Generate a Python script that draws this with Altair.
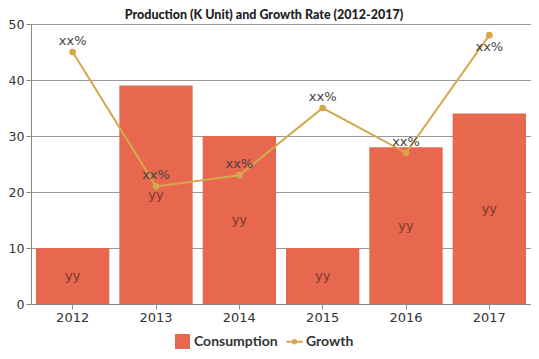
import altair as alt
import pandas as pd

years = ["2012", "2013", "2014", "2015", "2016", "2017"]
consumption = [10, 39, 30, 10, 28, 34]
growth = [45, 21, 23, 35, 27, 48]
bar_labels = ["yy"] * 6
growth_labels = ["xx%"] * 6
series_names = ["Consumption", "Growth"]

BAR = "#E8674F"
LINE = "#D4A84B"

rows = []
for i, y in enumerate(years):
    rows.append({"year": y, "series": "Consumption", "value": consumption[i], "label": bar_labels[i]})
    rows.append({"year": y, "series": "Growth", "value": growth[i], "label": growth_labels[i]})
df = pd.DataFrame(rows)

x = alt.X("year:N", title=None,
          scale=alt.Scale(paddingInner=0.12, paddingOuter=0.06),
          axis=alt.Axis(labelAngle=0, labelFontSize=13, labelColor="#333", labelFont="DejaVu Sans",
                        domainColor="#888", tickColor="#888", tickSize=5, labelPadding=2, grid=False))
y = alt.Y("value:Q", title=None,
          scale=alt.Scale(domain=[0, 50], nice=False),
          axis=alt.Axis(values=[0, 10, 20, 30, 40, 50], labelFontSize=12.5, labelColor="#333",
                        labelFont="DejaVu Sans", domainColor="#888", tickColor="#888", tickSize=5,
                        labelPadding=2, gridColor="#999", gridWidth=1))

leg = alt.Legend(title=None, orient="none", direction="horizontal", legendX=144, legendY=310,
                 labelFontSize=14, labelColor="#333", labelFont="Lato",
                 labelFontWeight="bold", symbolSize=225, symbolOpacity=1,
                 symbolStrokeWidth=0, columnPadding=8, labelOffset=4)
cscale = alt.Scale(domain=series_names, range=[BAR, LINE])
color = alt.Color("series:N", scale=cscale, legend=leg)

base = alt.Chart(df)

bars = base.transform_filter(alt.datum.series == "Consumption").mark_bar(color=BAR).encode(
    x=x, y=y, color=color)

bar_text = base.transform_filter(alt.datum.series == "Consumption").transform_calculate(
    half="datum.value / 2").mark_text(fontSize=13, color="#7a3a2c", font="DejaVu Sans",
                                       baseline="middle").encode(
    x=x, y=alt.Y("half:Q"), text="label:N")

line = base.transform_filter(alt.datum.series == "Growth").mark_line(
    color=LINE, strokeWidth=2).encode(x=x, y=y, color=color)

pts = base.transform_filter(alt.datum.series == "Growth").mark_circle(
    color=LINE, size=45, opacity=1).encode(x=x, y=y, color=color)

gtext_above = base.transform_filter(
    (alt.datum.series == "Growth") & (alt.datum.year != "2017")).mark_text(
    fontSize=13, color="#444", font="DejaVu Sans", dy=-11, baseline="middle").encode(
    x=x, y=y, text="label:N")

gtext_below = base.transform_filter(
    (alt.datum.series == "Growth") & (alt.datum.year == "2017")).mark_text(
    fontSize=13, color="#444", font="DejaVu Sans", dy=12, baseline="middle").encode(
    x=x, y=y, text="label:N")

growth_sym = ("M-1.1,-0.13L1.1,-0.13L1.1,0.13L-1.1,0.13Z"
              "M0.38,0A0.38,0.38 0 1,1 -0.38,0A0.38,0.38 0 1,1 0.38,0Z")

legend_layer = base.mark_point(filled=True, opacity=0).encode(
    x=x, y=y,
    color=color,
    shape=alt.Shape("series:N", scale=alt.Scale(domain=series_names,
                                                 range=["square", growth_sym]),
                    legend=leg),
)

chart = alt.layer(bars, bar_text, line, pts, gtext_above, gtext_below, legend_layer).properties(
    width=500, height=280,
    padding={"left": 0, "top": 0, "right": 0, "bottom": 0},
    title=alt.TitleParams("Production (K Unit) and Growth Rate (2012-2017)",
                          font="Lato", fontSize=12.5, dx=-17,
                          fontWeight=900, color="#222", anchor="middle", offset=-3),
).configure_view(stroke=None)

chart.save("out.html", embed_options={"renderer": "svg", "actions": False})
